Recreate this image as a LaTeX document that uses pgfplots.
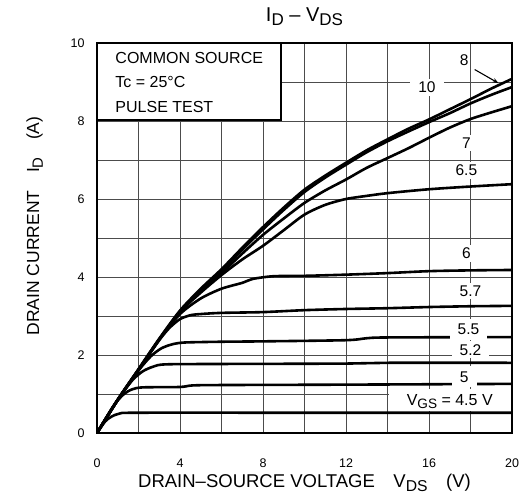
\documentclass[border=0pt]{standalone}
\usepackage{pgfplots}
\pgfplotsset{compat=1.18}
\usepackage{fontspec}
\setmainfont{Liberation Sans}
\usetikzlibrary{arrows.meta}
\newcommand\sub[1]{\raisebox{-0.4ex}{\scalebox{0.85}{#1}}}
\begin{document}
\begin{tikzpicture}
\begin{axis}[
  scale only axis, width=415pt, height=390pt,
  xmin=0, xmax=20, ymin=0, ymax=10,
  xtick={0,4,...,20}, ytick={0,2,...,10},
  minor xtick={2,6,10,14,18}, minor ytick={1,3,5,7,9},
  grid=both,
  grid style={black!70, line width=0.7pt},
  minor grid style={black!70, line width=0.7pt},
  major tick length=0pt, minor tick length=0pt,
  axis line style={line width=1.6pt},
  /pgf/number format/assume math mode=true,
  tick label style={font=\fontsize{12.5}{14}\selectfont},
  xticklabel style={yshift=-22pt},
  yticklabel style={xshift=-9pt},
  title={I\sub{D} -- V\sub{DS}},
  title style={at={(axis description cs:0.5,1.052)}, anchor=center, font=\fontsize{20}{22}\selectfont},
  xlabel={DRAIN--SOURCE VOLTAGE\quad V\sub{DS}\quad (V)},
  xlabel style={at={(axis description cs:0.5,-0.128)}, anchor=center, font=\fontsize{18.5}{20}\selectfont},
  ylabel={DRAIN CURRENT\quad I\sub{D}\quad (A)},
  ylabel style={at={(axis description cs:-0.15,0.531)}, anchor=center, font=\fontsize{17.5}{20}\selectfont},
  curve/.style={black, no markers, line width=2.6pt, line join=round, smooth, tension=0.45},
]
% VGS = 4.5
\addplot[curve] coordinates {(0,0) (0.4,0.3) (0.7,0.42) (1.1,0.5) (2,0.52) (10,0.52) (20,0.52)};
% VGS = 5
\addplot[curve] coordinates {(0,0) (0.8,0.7) (1.3,1.0) (1.7,1.12) (2.2,1.17) (4,1.18) (4.6,1.22) (6,1.23) (12,1.24) (20,1.26)};
% VGS = 5.2
\addplot[curve] coordinates {(0,0) (1,0.85) (1.7,1.35) (2.2,1.58) (2.7,1.7) (3.3,1.76) (6,1.77) (12,1.78) (14,1.8) (20,1.8)};
% VGS = 5.5
\addplot[curve] coordinates {(0,0) (1,0.85) (2,1.6) (2.6,1.97) (3.1,2.17) (3.6,2.27) (4.2,2.32) (6,2.34) (8,2.35) (12,2.38) (13,2.43) (14,2.45) (20,2.46)};
% VGS = 5.7
\addplot[curve] coordinates {(0,0) (1,0.85) (2,1.62) (3,2.38) (3.5,2.7) (4,2.92) (4.5,3.02) (5,3.05) (6,3.08) (8,3.1) (10,3.15) (12,3.18) (14,3.2) (16,3.23) (18,3.25) (20,3.26)};
% VGS = 6
\addplot[curve] coordinates {(0,0) (1,0.85) (2,1.62) (3,2.4) (4,3.05) (5,3.45) (6,3.7) (7,3.85) (7.5,3.95) (8.5,4.02) (10,4.03) (12,4.06) (14,4.1) (16,4.15) (18,4.17) (20,4.18)};
% VGS = 6.5
\addplot[curve] coordinates {(0,0) (1,0.85) (2,1.62) (3,2.4) (4,3.1) (5,3.6) (6,4.05) (7,4.45) (8,4.8) (9,5.2) (10,5.6) (11,5.85) (12,6.0) (13,6.08) (14,6.15) (16,6.25) (18,6.32) (20,6.38)};
% VGS = 7
\addplot[curve] coordinates {(0,0) (1,0.85) (2,1.62) (3,2.4) (4,3.1) (5,3.65) (6,4.1) (7,4.6) (8,5.08) (9,5.5) (10,5.9) (11,6.22) (12,6.5) (13,6.8) (14,7.05) (15,7.3) (16,7.57) (17,7.83) (18,8.05) (19,8.22) (20,8.38)};
% VGS = 10
\addplot[curve] coordinates {(0,0) (1,0.85) (2,1.62) (3,2.4) (4,3.12) (5,3.66) (6,4.15) (7,4.7) (8,5.22) (9,5.72) (10,6.18) (11,6.55) (12,6.88) (13,7.2) (14,7.48) (15,7.73) (16,7.97) (17,8.2) (18,8.45) (19,8.67) (20,8.87)};
% VGS = 8
\addplot[curve] coordinates {(0,0) (1,0.86) (2,1.64) (3,2.42) (4,3.14) (5,3.7) (6,4.2) (7,4.75) (8,5.28) (9,5.78) (10,6.24) (11,6.6) (12,6.93) (13,7.25) (14,7.53) (15,7.8) (16,8.04) (17,8.3) (18,8.56) (19,8.83) (20,9.08)};

% info box
\draw[line width=1.6pt, fill=white] (axis cs:0,10) rectangle (axis cs:8.87,8.03);
\node[anchor=west, font=\fontsize{16}{18}\selectfont] at (axis cs:0.72,9.62) {COMMON SOURCE};
\node[anchor=west, font=\fontsize{16}{18}\selectfont] at (axis cs:0.72,9.0) {Tc = 25°C};
\node[anchor=west, font=\fontsize{16}{18}\selectfont] at (axis cs:0.72,8.36) {PULSE TEST};

% curve labels
\tikzset{lab/.style={fill=white, inner xsep=8pt, inner ysep=3pt, font=\fontsize{15.5}{17}\selectfont}}
\node[lab, fill=none] at (axis cs:17.7,9.55) {8};
\draw[-{Stealth[length=6pt]}, line width=1.1pt] (axis cs:18.2,9.32) -- (axis cs:19.35,8.97);
\node[lab] at (axis cs:15.9,8.87) {10};
\node[lab] at (axis cs:17.8,7.44) {7};
\node[lab] at (axis cs:17.8,6.74) {6.5};
\node[lab] at (axis cs:17.8,4.6) {6};
\node[lab] at (axis cs:18.0,3.64) {5.7};
\node[lab, inner ysep=5pt] at (axis cs:17.9,2.66) {5.5};
\node[lab] at (axis cs:18.0,2.13) {5.2};
\node[lab, inner ysep=5pt] at (axis cs:17.7,1.44) {5};
\fill[white] (axis cs:14.05,0.57) rectangle (axis cs:19.95,1.14);
\node[font=\fontsize{16}{18}\selectfont] at (axis cs:17.0,0.8) {V\sub{GS} = 4.5 V};
\end{axis}
\path[use as bounding box] (-97pt,-68pt) rectangle (427pt,433pt);
\end{tikzpicture}
\end{document}
